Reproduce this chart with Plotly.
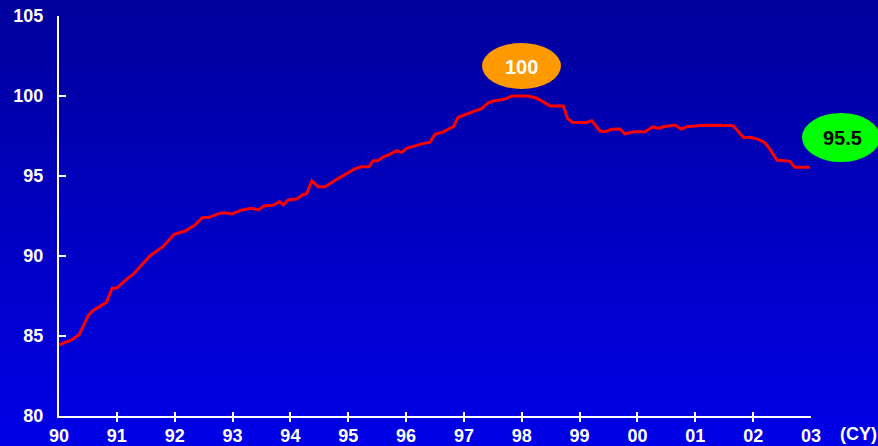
import plotly.graph_objects as go

# Traced series (decimal calendar year, index value)
years = [1990.00, 1990.16, 1990.22, 1990.35, 1990.51, 1990.59, 1990.82, 1990.92, 1991.00,
         1991.17, 1991.28, 1991.57, 1991.80, 1991.99, 1992.18, 1992.35, 1992.48, 1992.58,
         1992.78, 1992.87, 1992.99, 1993.16, 1993.33, 1993.45, 1993.54, 1993.70, 1993.81,
         1993.88, 1993.96, 1994.11, 1994.22, 1994.28, 1994.37, 1994.48, 1994.60, 1994.80,
         1994.97, 1995.12, 1995.23, 1995.36, 1995.43, 1995.51, 1995.61, 1995.72, 1995.84,
         1995.92, 1996.01, 1996.15, 1996.30, 1996.41, 1996.50, 1996.62, 1996.75, 1996.82,
         1996.90, 1997.10, 1997.31, 1997.42, 1997.51, 1997.62, 1997.71, 1997.83, 1998.11,
         1998.26, 1998.34, 1998.49, 1998.72, 1998.79, 1998.88, 1999.12, 1999.21, 1999.35,
         1999.44, 1999.55, 1999.70, 1999.78, 1999.93, 2000.13, 2000.27, 2000.36, 2000.45,
         2000.65, 2000.76, 2000.85, 2001.08, 2001.25, 2001.60, 2001.66, 2001.83, 2001.97,
         2002.09, 2002.20, 2002.26, 2002.41, 2002.55, 2002.64, 2002.72, 2002.98]
values = [84.44, 84.69, 84.75, 85.10, 86.30, 86.60, 87.10, 88.00, 88.00,
          88.56, 88.85, 90.00, 90.60, 91.35, 91.56, 91.94, 92.40, 92.40,
          92.67, 92.70, 92.63, 92.88, 92.98, 92.88, 93.13, 93.17, 93.40,
          93.19, 93.50, 93.56, 93.85, 93.88, 94.70, 94.33, 94.33, 94.79,
          95.13, 95.46, 95.58, 95.58, 95.96, 95.96, 96.20, 96.35, 96.58,
          96.46, 96.73, 96.88, 97.04, 97.10, 97.60, 97.73, 97.98, 98.08,
          98.67, 98.92, 99.23, 99.58, 99.69, 99.75, 99.81, 100.00, 100.00,
          99.86, 99.69, 99.38, 99.38, 98.60, 98.35, 98.35, 98.46, 97.81,
          97.77, 97.92, 97.94, 97.63, 97.77, 97.77, 98.08, 97.98, 98.08,
          98.19, 97.92, 98.08, 98.15, 98.17, 98.15, 98.13, 97.42, 97.40,
          97.29, 97.08, 96.83, 96.00, 95.96, 95.90, 95.54, 95.54]

tick_years = list(range(1990, 2004))
tick_labels = ["90", "91", "92", "93", "94", "95", "96", "97", "98", "99", "00", "01", "02", "03"]
y_ticks = [80, 85, 90, 95, 100, 105]
axis_unit = "(CY)"

W, H = 878, 446
ML, MR, MT, MB = 59, 67, 16, 30
PW, PH = W - ML - MR, H - MT - MB

fig = go.Figure()
fig.add_trace(go.Scatter(x=years, y=values, mode="lines",
                         line=dict(color="#FF0000", width=3), hoverinfo="x+y",
                         showlegend=False))

# gradient background (paper coords extended over the whole page)
shapes = []
n = 100
x0p, x1p = -ML / PW - 0.01, 1 + MR / PW + 0.01
y_bot, y_top = -MB / PH - 0.01, 1 + MT / PH + 0.01
c_top, c_bot = 154, 232
for i in range(n):
    f0 = i / n
    f1 = (i + 1) / n
    b = round(c_top + (c_bot - c_top) * (i + 0.5) / n)
    shapes.append(dict(type="rect", xref="paper", yref="paper", layer="below",
                       x0=x0p, x1=x1p,
                       y1=y_top - (y_top - y_bot) * f0 + 0.001,
                       y0=y_top - (y_top - y_bot) * f1 - 0.001,
                       line=dict(width=0), fillcolor=f"rgb(0,0,{b})"))

def px_x(p):
    return (p - ML) / PW

def px_y(p):
    return (H - MB - p) / PH

# labels: peak and latest
shapes.append(dict(type="circle", xref="paper", yref="paper", layer="above",
                   x0=px_x(482), x1=px_x(561), y0=px_y(89), y1=px_y(43),
                   fillcolor="#FF9900", line=dict(width=0)))
shapes.append(dict(type="circle", xref="paper", yref="paper", layer="above",
                   x0=px_x(802), x1=px_x(880), y0=px_y(162), y1=px_y(113),
                   fillcolor="#00FF00", line=dict(width=0)))

font_b = "Liberation Sans, Arial, sans-serif"
annotations = [
    dict(xref="paper", yref="paper", x=px_x(521.5), y=px_y(67), showarrow=False,
         xanchor="center", yanchor="middle",
         text=f"<b>{max(values):.0f}</b>", font=dict(color="white", size=20, family=font_b)),
    dict(xref="paper", yref="paper", x=px_x(842), y=px_y(138), showarrow=False,
         xanchor="center", yanchor="middle",
         text=f"<b>{values[-1]:.1f}</b>", font=dict(color="black", size=20, family=font_b)),
    dict(xref="paper", yref="paper", x=px_x(858), y=px_y(434), showarrow=False,
         xanchor="center", yanchor="middle",
         text=f"<b>{axis_unit}</b>", font=dict(color="white", size=18, family=font_b)),
]

fig.update_layout(
    width=W, height=H,
    margin=dict(l=ML, r=MR, t=MT, b=MB, autoexpand=False),
    paper_bgcolor="#0000C0",
    plot_bgcolor="rgba(0,0,0,0)",
    shapes=shapes,
    annotations=annotations,
    showlegend=False,
    font=dict(family=font_b, color="white", size=18),
    xaxis=dict(range=[1990, 2003], tickmode="array", tickvals=tick_years,
               ticktext=[f"<b>{t}</b>" for t in tick_labels], automargin=False,
               showgrid=False, zeroline=False, showline=True, linecolor="white",
               linewidth=2, ticks="inside", ticklen=4, tickwidth=2, tickcolor="white",
               minor=dict(ticks="outside", ticklen=4, tickwidth=2, tickcolor="white",
                          tickmode="array", tickvals=tick_years, showgrid=False),
               tickfont=dict(size=18, color="white", family=font_b), ticklabelstandoff=2),
    yaxis=dict(range=[80, 105], tickmode="array", tickvals=y_ticks,
               ticktext=[f"<b>{t}</b>" for t in y_ticks], automargin=False,
               showgrid=False, zeroline=False, showline=True, linecolor="white",
               linewidth=2, ticks="inside", ticklen=7, tickwidth=2, tickcolor="white",
               tickfont=dict(size=18, color="white", family=font_b), ticklabelstandoff=10),
)

fig.write_html("out.html")
